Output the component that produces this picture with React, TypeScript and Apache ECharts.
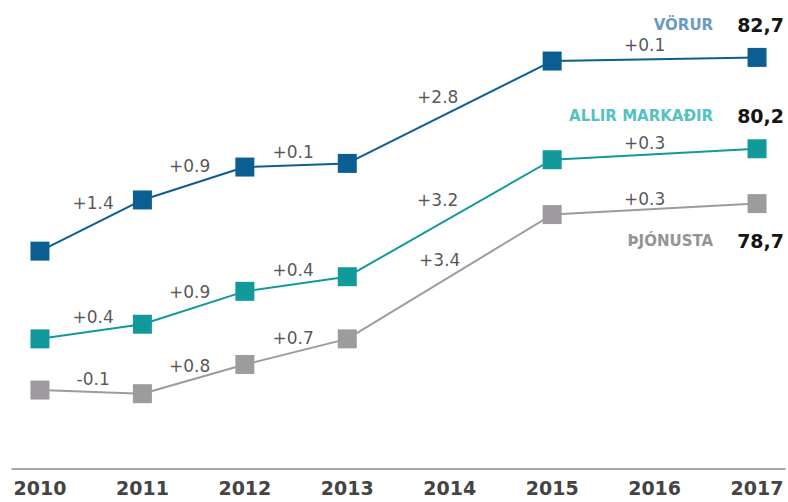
import React, { useEffect, useRef } from "react";
import * as echarts from "echarts";

const years = [2010, 2011, 2012, 2013, 2014, 2015, 2016, 2017];
const pointYears = [2010, 2011, 2012, 2013, 2015, 2017];
const vorur = [77.4, 78.8, 79.7, 79.8, 82.6, 82.7];
const allir = [75.0, 75.4, 76.3, 76.7, 79.9, 80.2];
const thjonusta = [73.6, 73.5, 74.3, 75.0, 78.4, 78.7];
const vorurDiffs = ["+1.4", "+0.9", "+0.1", "+2.8", "+0.1"];
const allirDiffs = ["+0.4", "+0.9", "+0.4", "+3.2", "+0.3"];
const thjonustaDiffs = ["-0.1", "+0.8", "+0.7", "+3.4", "+0.3"];
const seriesNames = ["VÖRUR", "ALLIR MARKAÐIR", "ÞJÓNUSTA"];
const lastValues = ["82,7", "80,2", "78,7"];

const colors = ["#0b5e92", "#12999c", "#9e9b9e"];
const nameColors = ["#6a9cc2", "#55c2c2", "#949494"];
const diffOffsets = [
  [[2, -23], [-4, -18], [-3, -13], [-12, -15], [-10, -14]],
  [[2, -15], [-4, -16], [-3, -14], [-12, -18], [-10, -11]],
  [[2, -13], [-4, -13], [-3, -14], [-10, -17], [-10, -10]],
];

export default function App() {
  const ref = useRef<HTMLDivElement>(null);
  useEffect(() => {
    if (!ref.current) return;
    const chart = echarts.init(ref.current, null, { renderer: "svg" });
    const all = [vorur, allir, thjonusta];
    const diffs = [vorurDiffs, allirDiffs, thjonustaDiffs];
    const series: any[] = [];
    all.forEach((vals, si) => {
      series.push({
        type: "line",
        name: seriesNames[si],
        data: vals.map((v, i) => {
          const d: any = { value: [pointYears[i], v] };
          if (i === vals.length - 1) {
            const below = si === 2;
            d.label = {
              show: true,
              position: below ? "bottom" : "top",
              align: "right",
              verticalAlign: "middle",
              offset: [27, below ? 23 : -18],
              formatter: `{n|${seriesNames[si]}}{v|${lastValues[si]}}`,
              rich: {
                n: {
                  color: nameColors[si],
                  fontSize: 15,
                  fontWeight: "bold",
                  fontFamily: "DejaVu Sans",
                  padding: [0, 24, 0, 0],
                },
                v: {
                  color: "#151515",
                  fontSize: 19,
                  fontWeight: "bold",
                  fontFamily: "DejaVu Sans",
                },
              },
            };
          }
          return d;
        }),
        symbol: "rect",
        symbolSize: 19,
        lineStyle: { color: colors[si], width: 2 },
        itemStyle: { color: colors[si] },
        z: 3,
      });
      series.push({
        type: "scatter",
        symbolSize: 0,
        silent: true,
        data: diffs[si].map((t, i) => ({
          value: [
            (pointYears[i] + pointYears[i + 1]) / 2,
            (vals[i] + vals[i + 1]) / 2,
          ],
          label: {
            show: true,
            formatter: t,
            position: "inside",
            offset: diffOffsets[si][i],
            color: "#2a2a2a",
            fontSize: 17,
            fontFamily: "DejaVu Sans",
          },
        })),
        z: 4,
      });
    });

    chart.setOption({
      animation: false,
      grid: { left: 12, right: 3, top: 0, bottom: 33 },
      xAxis: {
        type: "value",
        min: 2009.727,
        max: 2017.273,
        splitLine: { show: false },
        axisTick: { show: false },
        axisLine: { show: true, lineStyle: { color: "#8a8a8a", width: 1.5 } },
        axisLabel: {
          customValues: years,
          color: "#444",
          fontSize: 19,
          fontWeight: "bold",
          fontFamily: "DejaVu Sans",
          margin: 9,
          formatter: (v: number) => String(v),
        },
      },
      yAxis: {
        type: "value",
        min: 71.44,
        max: 84.27,
        show: false,
        splitLine: { show: false },
      },
      series,
    });
    return () => chart.dispose();
  }, []);
  return (
    <div
      ref={ref}
      style={{ position: "fixed", left: 0, top: 0, width: 788, height: 502, background: "#fff" }}
    />
  );
}
